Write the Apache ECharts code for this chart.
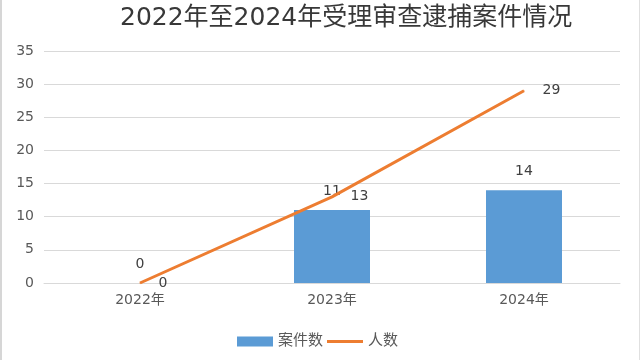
<!DOCTYPE html>
<html><head><meta charset="utf-8">
<script src="https://cdn.jsdelivr.net/npm/echarts@6/dist/echarts.min.js"></script>
<style>
html,body{margin:0;padding:0;background:#fff;}
#c{width:640px;height:360px;box-sizing:border-box;border-left:2px solid #d6d6d6;border-right:1px solid #e0e0e0;}
</style></head>
<body><div id="c"></div>
<script>
const titleText = '2022年至2024年受理审查逮捕案件情况';
const categories = ['2022年', '2023年', '2024年'];
const caseCounts = [0, 11, 14];
const personCounts = [0, 13, 29];
const seriesNames = ['案件数', '人数'];

const font = 'DejaVu Sans, "Noto Sans CJK SC", sans-serif';
const chart = echarts.init(document.getElementById('c'), null, {renderer: 'canvas'});
chart.setOption({
  animation: false,
  textStyle: {fontFamily: font},
  title: {
    text: titleText, left: 113, top: 1,
    textStyle: {fontSize: 25, fontWeight: 'normal', color: '#383838', fontFamily: font}
  },
  legend: {
    bottom: 6, left: 230, itemGap: 4, itemWidth: 36, itemHeight: 10,
    textStyle: {fontSize: 15, color: '#595959', fontFamily: font},
    data: [
      {name: seriesNames[0], icon: 'rect'},
      {name: seriesNames[1], icon: 'path://M0,0 L36,0 L36,3 L0,3 Z'}
    ]
  },
  grid: {left: 42, right: 19, top: 51, bottom: 77, containLabel: false},
  xAxis: {
    type: 'category', data: categories,
    axisLine: {show: true, lineStyle: {color: '#d9d9d9'}},
    axisTick: {show: false},
    axisLabel: {fontSize: 14, color: '#595959', margin: 10, fontFamily: font}
  },
  yAxis: {
    type: 'value', min: 0, max: 35, interval: 5,
    axisLine: {show: false}, axisTick: {show: false},
    splitLine: {lineStyle: {color: '#d9d9d9', width: 1}},
    axisLabel: {fontSize: 14, color: '#595959', margin: 10, fontFamily: font}
  },
  series: [
    {
      name: seriesNames[0], type: 'bar', data: caseCounts, barWidth: 76,
      itemStyle: {color: '#5B9BD5'},
      label: {show: true, position: 'top', distance: 12, fontSize: 14, color: '#404040', fontFamily: font}
    },
    {
      name: seriesNames[1], type: 'line', data: personCounts,
      symbol: 'circle', symbolSize: 1, showSymbol: true, z: 3,
      lineStyle: {color: '#ED7D31', width: 3},
      itemStyle: {color: '#ED7D31'},
      label: {show: true, position: 'right', distance: 18, fontSize: 14, color: '#404040', fontFamily: font}
    }
  ]
});
</script></body></html>
